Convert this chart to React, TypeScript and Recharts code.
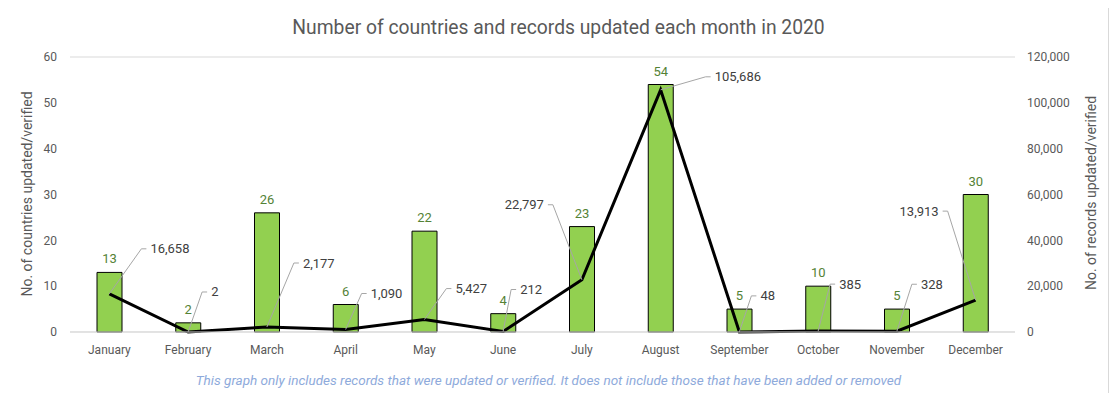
import React from 'react';
import { ComposedChart, Bar, Line, XAxis, YAxis, CartesianGrid, LabelList } from 'recharts';

const months = ['January', 'February', 'March', 'April', 'May', 'June', 'July', 'August', 'September', 'October', 'November', 'December'];
const countriesUpdated = [13, 2, 26, 6, 22, 4, 23, 54, 5, 10, 5, 30];
const recordsUpdated = [16658, 2, 2177, 1090, 5427, 212, 22797, 105686, 48, 385, 328, 13913];
const countryTicks = [0, 10, 20, 30, 40, 50, 60];
const recordTicks = [0, 20000, 40000, 60000, 80000, 100000, 120000];

// where each record label sits relative to its point (leader line elbow)
const leaderOffsets: [number, number][] = [
  [32, -45], [14, -40], [27, -64], [16, -36], [22, -31], [8, -42],
  [-29, -75], [45, -13], [12, -36], [12, -47], [15, -47], [-28, -89],
];

const data = months.map((month, i) => ({
  month,
  countries: countriesUpdated[i],
  records: recordsUpdated[i],
}));

const FONT = 'Roboto, sans-serif';
const fmt = (v: number) => v.toLocaleString('en-US');

const RecordLabel = (props: any) => {
  const { x, y, value, index } = props;
  const [dx, dy] = leaderOffsets[index] ?? [10, -30];
  const ex = x + dx;
  const ey = y + dy;
  const dir = dx < 0 ? -1 : 1;
  return (
    <g>
      <polyline
        points={`${x},${y} ${ex},${ey} ${ex + dir * 5},${ey}`}
        fill="none"
        stroke="#a6a6a6"
        strokeWidth={1}
      />
      <text
        x={ex + dir * 9}
        y={ey}
        dominantBaseline="central"
        textAnchor={dir < 0 ? 'end' : 'start'}
        fontFamily={FONT}
        fontSize={13}
        fill="#404040"
      >
        {fmt(Number(value))}
      </text>
    </g>
  );
};

export default function App() {
  return (
    <div style={{ position: 'relative', width: 1117, height: 401, margin: -8, background: '#fff', fontFamily: FONT }}>
      <div
        style={{
          position: 'absolute', left: 5, top: 5, width: 1104, height: 391,
          border: '1px solid #d9d9d9', boxSizing: 'border-box',
        }}
      />
      <div
        style={{
          position: 'absolute', left: 0, width: 1117, top: 16, textAlign: 'center',
          fontSize: 19.3, color: '#595959', lineHeight: '24px',
        }}
      >
        Number of countries and records updated each month in 2020
      </div>
      <div style={{ position: 'absolute', left: 0, top: 0 }}>
        <ComposedChart
          width={1117}
          height={401}
          data={data}
          margin={{ top: 57, right: 0, bottom: 39, left: 0 }}
        >
          <CartesianGrid vertical={false} stroke="#d9d9d9" />
          <XAxis
            dataKey="month"
            height={30}
            tickLine={false}
            axisLine={{ stroke: '#d9d9d9' }}
            tickSize={0}
            tickMargin={13}
            tick={{ fill: '#595959', fontSize: 12, fontFamily: FONT }}
            interval={0}
          />
          <YAxis
            yAxisId="left"
            width={70}
            domain={[0, 60]}
            ticks={countryTicks}
            tickLine={false}
            axisLine={false}
            tickSize={0}
            tickMargin={13}
            tick={{ fill: '#595959', fontSize: 12, fontFamily: FONT }}
          />
          <YAxis
            yAxisId="right"
            orientation="right"
            width={102}
            domain={[0, 120000]}
            ticks={recordTicks}
            tickFormatter={fmt}
            tickLine={false}
            axisLine={false}
            tickSize={0}
            tickMargin={12}
            tick={{ fill: '#595959', fontSize: 12, fontFamily: FONT }}
          />
          <Bar
            yAxisId="left"
            dataKey="countries"
            barSize={25}
            fill="#92d050"
            stroke="#000"
            strokeWidth={1}
            isAnimationActive={false}
          >
            <LabelList
              dataKey="countries"
              position="top"
              offset={9}
              fill="#548235"
              fontSize={13}
              fontFamily={FONT}
            />
          </Bar>
          <Line
            yAxisId="right"
            dataKey="records"
            type="linear"
            stroke="#000"
            strokeWidth={3}
            dot={false}
            activeDot={false}
            isAnimationActive={false}
          >
            <LabelList dataKey="records" content={RecordLabel} />
          </Line>
        </ComposedChart>
      </div>
      <div
        style={{
          position: 'absolute', left: 27, top: 194, transform: 'translate(-50%, -50%) rotate(-90deg)',
          whiteSpace: 'nowrap', fontSize: 14, color: '#595959',
        }}
      >
        No. of countries updated/verified
      </div>
      <div
        style={{
          position: 'absolute', left: 1091, top: 193, transform: 'translate(-50%, -50%) rotate(-90deg)',
          whiteSpace: 'nowrap', fontSize: 14, color: '#595959',
        }}
      >
        No. of records updated/verified
      </div>
      <div
        style={{
          position: 'absolute', left: 0, width: 1097, top: 371, textAlign: 'center',
          fontSize: 13.5, fontStyle: 'italic', color: '#8eaadb', lineHeight: '18px',
        }}
      >
        This graph only includes records that were updated or verified. It does not include those that have been added or removed
      </div>
    </div>
  );
}
